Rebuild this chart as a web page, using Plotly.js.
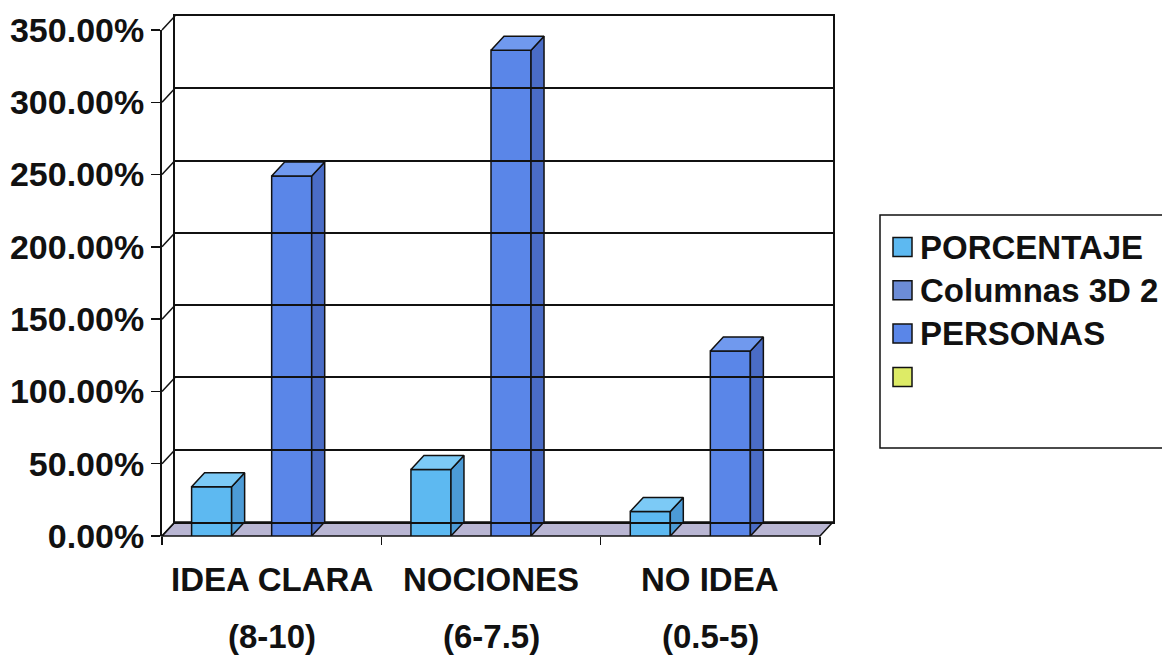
<!DOCTYPE html>
<html>
<head>
<meta charset="utf-8">
<script src="https://cdn.plot.ly/plotly-3.0.1.min.js"></script>
<style>
  html, body { margin: 0; padding: 0; background: #ffffff; }
  #chart { width: 1162px; height: 655px; }
</style>
</head>
<body>
<div id="chart"></div>
<script>
// ---------------- data ----------------
const catLine1 = ['IDEA CLARA', 'NOCIONES', 'NO IDEA'];
const catLine2 = ['(8-10)', '(6-7.5)', '(0.5-5)'];
const seriesNames = ['PORCENTAJE', 'Columnas 3D 2', 'PERSONAS', ''];
const porcentaje = [0.34, 0.46, 0.17];
const columnas3D2 = [null, null, null];
const personas = [2.49, 3.36, 1.28];
const blankSeries = [null, null, null];
const yTicks = [0, 0.5, 1, 1.5, 2, 2.5, 3, 3.5];

// ---------------- styling / geometry ----------------
const W = 1162, H = 655;
const M = { l: 162, r: 329, t: 16, b: 119 };
const PW = W - M.l - M.r, PH = H - M.t - M.b;
const DX = 13, DY = 14;                 // 3D depth offset in px
const YMAX = 3.5;
const frontXDom = [0, (PW - DX) / PW];
const frontYDom = [0, (PH - DY) / PH];
const backXDom = [DX / PW, 1];
const backYDom = [DY / PH, 1];
const pxPerX = (PW - DX) / 3;
const pxPerY = (PH - DY) / YMAX;
const dxu = DX / pxPerX, dyu = DY / pxPerY;
const BW = 0.1825, GS = -0.365;
const px2x = px => (px - M.l) / PW;
const py2y = py => (H - M.b - py) / PH;

const colors = {
  front: ['#5DB9F1', '#6C8CD6', '#5A86E8', '#DDEB66'],
  top:   ['#7CCAF6', '#86A2E0', '#7099EE', '#E6F08A'],
  side:  ['#4C9BD6', '#5A76C0', '#4A6CC6', '#C5D24E']
};
const FONT = 'Liberation Sans, Arial, sans-serif';
const INK = '#111111';

const seriesData = [porcentaje, columnas3D2, personas, blankSeries];
const xs = catLine1.map((_, i) => i);

const traces = [];
// dummy trace to activate back axes (gridlines of the back wall)
traces.push({ type: 'scatter', x: [null], y: [null], xaxis: 'x2', yaxis: 'y2',
  showlegend: false, hoverinfo: 'skip' });
// front faces as bars
seriesData.forEach((vals, k) => {
  traces.push({
    type: 'bar', name: seriesNames[k], x: xs, y: vals,
    width: BW, offset: GS + k * BW,
    marker: { color: colors.front[k], line: { color: INK, width: 1.5 } },
    hoverinfo: 'skip', showlegend: false
  });
});
// top & side faces computed from the same values
seriesData.forEach((vals, k) => {
  const tx = [], ty = [], sx = [], sy = [];
  vals.forEach((v, i) => {
    if (v === null) return;
    const xl = i + GS + k * BW, xr = xl + BW;
    tx.push(xl, xl + dxu, xr + dxu, xr, xl, null);
    ty.push(v, v + dyu, v + dyu, v, v, null);
    sx.push(xr, xr + dxu, xr + dxu, xr, xr, null);
    sy.push(0, dyu, v + dyu, v, 0, null);
  });
  if (!tx.length) return;
  traces.push({ type: 'scatter', mode: 'lines', x: sx, y: sy, fill: 'toself',
    fillcolor: colors.side[k], line: { color: INK, width: 1.5 },
    hoverinfo: 'skip', showlegend: false });
  traces.push({ type: 'scatter', mode: 'lines', x: tx, y: ty, fill: 'toself',
    fillcolor: colors.top[k], line: { color: INK, width: 1.5 },
    hoverinfo: 'skip', showlegend: false });
});

// decorative shapes: floor and left-wall connectors
const shapes = [];
const fy = v => frontYDom[1] * v / YMAX;
const by = v => backYDom[0] + (backYDom[1] - backYDom[0]) * v / YMAX;
shapes.push({
  type: 'path', xref: 'paper', yref: 'paper', layer: 'below',
  path: `M ${frontXDom[0]},${fy(0)} L ${backXDom[0]},${by(0)} L ${backXDom[1]},${by(0)} L ${frontXDom[1]},${fy(0)} Z`,
  fillcolor: '#B9B6D3', line: { color: INK, width: 1.5 }
});
yTicks.forEach(v => {
  shapes.push({ type: 'line', xref: 'paper', yref: 'paper', layer: 'above',
    x0: frontXDom[0], y0: fy(v), x1: backXDom[0], y1: by(v),
    line: { color: INK, width: 1.5 } });
});

const annotations = [];
xs.forEach(i => {
  annotations.push({ xref: 'x', yref: 'paper', x: i, y: py2y(579), text: catLine1[i],
    showarrow: false, xanchor: 'center', yanchor: 'middle',
    font: { family: FONT, size: 33, color: INK, weight: 'bold' } });
  annotations.push({ xref: 'x', yref: 'paper', x: i, y: py2y(636), text: catLine2[i],
    showarrow: false, xanchor: 'center', yanchor: 'middle',
    font: { family: FONT, size: 33, color: INK, weight: 'bold' } });
});

// legend box (drawn by hand so that it matches the original's layout)
const legTop = 215, legBottom = 448, legLeft = 880, legStep = 43.3, legFirst = 247;
shapes.push({ type: 'rect', xref: 'paper', yref: 'paper', layer: 'above',
  x0: px2x(legLeft), x1: px2x(W + 20), y0: py2y(legBottom), y1: py2y(legTop),
  fillcolor: '#ffffff', line: { color: INK, width: 1.5 } });
seriesNames.forEach((name, k) => {
  const cy = legFirst + k * legStep;
  shapes.push({ type: 'rect', xref: 'paper', yref: 'paper', layer: 'above',
    x0: px2x(893), x1: px2x(912), y0: py2y(cy + 9.5), y1: py2y(cy - 9.5),
    fillcolor: colors.front[k], line: { color: INK, width: 1.5 } });
  if (name.trim()) {
    annotations.push({ xref: 'paper', yref: 'paper', x: px2x(918), y: py2y(cy),
      text: name, showarrow: false, xanchor: 'left', yanchor: 'middle',
      font: { family: FONT, size: 33, color: INK, weight: 'bold' } });
  }
});

const layout = {
  width: W, height: H,
  margin: { l: M.l, r: M.r, t: M.t, b: M.b, autoexpand: false },
  paper_bgcolor: '#ffffff', plot_bgcolor: 'rgba(0,0,0,0)',
  barmode: 'overlay',
  showlegend: false,
  font: { family: FONT, color: INK },
  xaxis: {
    domain: frontXDom, range: [-0.5, 2.5], anchor: 'y',
    tickmode: 'array', tickvals: [-0.5, 0.5, 1.5, 2.5], ticktext: ['', '', '', ''],
    ticks: 'outside', ticklen: 8, tickwidth: 1.5, tickcolor: INK,
    showgrid: false, zeroline: false, showline: false, fixedrange: true
  },
  yaxis: {
    domain: frontYDom, range: [0, YMAX], anchor: 'x',
    tickmode: 'array', tickvals: yTicks, tickformat: '.2%',
    ticks: 'outside', ticklen: 9, tickwidth: 1.5, tickcolor: INK,
    showline: true, linecolor: INK, linewidth: 2,
    showgrid: false, zeroline: false,
    tickfont: { family: FONT, size: 34, color: INK, weight: 'bold' },
    fixedrange: true
  },
  xaxis2: {
    domain: backXDom, range: [-0.5, 2.5], anchor: 'y2',
    showticklabels: false, ticks: '', showgrid: false, zeroline: false,
    showline: true, mirror: true, linecolor: INK, linewidth: 2, fixedrange: true
  },
  yaxis2: {
    domain: backYDom, range: [0, YMAX], anchor: 'x2',
    tickmode: 'array', tickvals: yTicks, showticklabels: false, ticks: '',
    showgrid: true, gridcolor: INK, gridwidth: 2, zeroline: false,
    showline: true, mirror: true, linecolor: INK, linewidth: 2, fixedrange: true
  },
  shapes: shapes,
  annotations: annotations
};

Plotly.newPlot('chart', traces, layout, { displayModeBar: false, staticPlot: true });
</script>
</body>
</html>
